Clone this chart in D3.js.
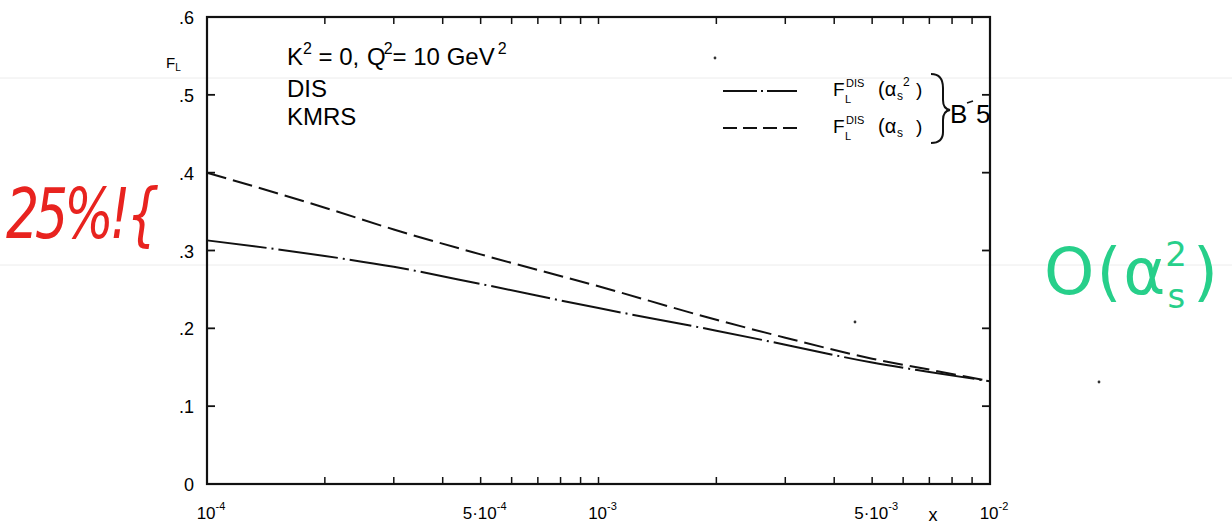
<!DOCTYPE html>
<html>
<head>
    <title></title>
    <meta charset="utf-8" />
    <style>
        body { margin: 0; background: #fff; }
        svg { display: block; }
    </style>
    <script src="https://d3js.org/d3.v7.min.js"></script>
</head>
<body>

<svg id="svg"></svg>

<script>

// x values (log axis) and the two curves
let xs       = [1e-4, 2e-4, 3e-4, 5e-4, 1e-3, 2e-3, 3e-3, 5e-3, 7e-3, 1e-2];
let fAlphaS  = [0.400, 0.355, 0.327, 0.295, 0.254, 0.211, 0.188, 0.161, 0.147, 0.132];
let fAlphaS2 = [0.313, 0.293, 0.279, 0.257, 0.226, 0.197, 0.179, 0.156, 0.144, 0.132];

let yTicks = [0, 0.1, 0.2, 0.3, 0.4, 0.5, 0.6];
let yTickLabels = ["0", ".1", ".2", ".3", ".4", ".5", ".6"];
let xMinor = [2e-4, 3e-4, 4e-4, 5e-4, 6e-4, 7e-4, 8e-4, 9e-4, 1e-3,
              2e-3, 3e-3, 4e-3, 5e-3, 6e-3, 7e-3, 8e-3, 9e-3];
let xLabels = [
    { v: 1e-4, base: "10", exp: "-4" },
    { v: 5e-4, base: "5·10", exp: "-4" },
    { v: 1e-3, base: "10", exp: "-3" },
    { v: 5e-3, base: "5·10", exp: "-3" },
    { v: 1e-2, base: "10", exp: "-2" }
];

let W = 1232, H = 526;
let svg = d3.select("#svg").attr("width", W).attr("height", H);

let x = d3.scaleLog().domain([1e-4, 1e-2]).range([207, 990]);
let y = d3.scaleLinear().domain([0, 0.6]).range([484, 17]);

let font = "'Liberation Sans', Arial, sans-serif";

// faint scanner lines
[78, 265].forEach(function(yy) {
    svg.append("line").attr("x1", 0).attr("x2", W).attr("y1", yy).attr("y2", yy)
        .attr("stroke", "#ececec").attr("stroke-width", 1);
});

// frame
svg.append("rect")
    .attr("x", x(1e-4)).attr("y", y(0.6))
    .attr("width", x(1e-2) - x(1e-4)).attr("height", y(0) - y(0.6))
    .attr("fill", "none").attr("stroke", "#111").attr("stroke-width", 2.2);

// y ticks (left + right, inward)
let yt = yTicks.filter(d => d > 0 && d < 0.6);
svg.selectAll(".ytl").data(yt).enter().append("line")
    .attr("x1", x(1e-4)).attr("x2", x(1e-4) + 8)
    .attr("y1", d => y(d)).attr("y2", d => y(d))
    .attr("stroke", "#111").attr("stroke-width", 1.8);
svg.selectAll(".ytr").data(yt).enter().append("line")
    .attr("x1", x(1e-2)).attr("x2", x(1e-2) - 8)
    .attr("y1", d => y(d)).attr("y2", d => y(d))
    .attr("stroke", "#111").attr("stroke-width", 1.8);

svg.selectAll(".ylab").data(yTicks).enter().append("text")
    .attr("x", 194).attr("y", d => y(d) + 7)
    .attr("text-anchor", "end")
    .attr("font-family", font).attr("font-size", 18)
    .text((d, i) => yTickLabels[i]);

// x minor ticks (bottom + top)
svg.selectAll(".xtb").data(xMinor).enter().append("line")
    .attr("x1", d => x(d)).attr("x2", d => x(d))
    .attr("y1", y(0)).attr("y2", y(0) - 7)
    .attr("stroke", "#111").attr("stroke-width", 1.5);
svg.selectAll(".xtt").data(xMinor).enter().append("line")
    .attr("x1", d => x(d)).attr("x2", d => x(d))
    .attr("y1", y(0.6)).attr("y2", y(0.6) + 7)
    .attr("stroke", "#111").attr("stroke-width", 1.5);

// x labels
let xl = svg.selectAll(".xlab").data(xLabels).enter().append("text")
    .attr("x", d => x(d.v) + 4).attr("y", 519)
    .attr("text-anchor", "middle")
    .attr("font-family", font).attr("font-size", 17);
xl.append("tspan").text(d => d.base);
xl.append("tspan").attr("dy", -9).attr("font-size", 11).text(d => d.exp);

svg.append("text").attr("x", 933).attr("y", 521)
    .attr("text-anchor", "middle")
    .attr("font-family", font).attr("font-size", 18).text("x");

// y label F_L
let fl = svg.append("text").attr("x", 166).attr("y", 68)
    .attr("font-family", font).attr("font-size", 15);
fl.append("tspan").text("F");
fl.append("tspan").attr("dy", 3).attr("font-size", 10).text("L");

// curves
let line = d3.line()
    .x((d, i) => x(xs[i]))
    .y(d => y(d))
    .curve(d3.curveMonotoneX);

svg.append("path").datum(fAlphaS)
    .attr("d", line).attr("fill", "none")
    .attr("stroke", "#111").attr("stroke-width", 2)
    .attr("stroke-dasharray", "20,7");

svg.append("path").datum(fAlphaS2)
    .attr("d", line).attr("fill", "none")
    .attr("stroke", "#111").attr("stroke-width", 2)
    .attr("stroke-dasharray", "60,5,2,5");

// text block
let t1 = svg.append("text").attr("x", 287).attr("y", 65)
    .attr("font-family", font).attr("font-size", 24);
t1.append("tspan").text("K");
t1.append("tspan").attr("dy", -11).attr("font-size", 16).text("2");
t1.append("tspan").attr("dy", 11).text(" = 0,");
t1.append("tspan").attr("x", 367).text("Q");
t1.append("tspan").attr("dy", -11).attr("font-size", 16).attr("dx", -2).text("2");
t1.append("tspan").attr("dy", 11).text("= 10 GeV");
t1.append("tspan").attr("dy", -11).attr("font-size", 16).attr("dx", 3).text("2");

svg.append("text").attr("x", 287).attr("y", 97)
    .attr("font-family", font).attr("font-size", 24).text("DIS");
svg.append("text").attr("x", 287).attr("y", 125)
    .attr("font-family", font).attr("font-size", 24).text("KMRS");

// legend
let legend = [
    { y: 91, dash: "34,4,2,4", sup: "2" },
    { y: 128, dash: "14,6", sup: "" }
];
legend.forEach(function(d) {
    svg.append("line").attr("x1", 723).attr("x2", 797)
        .attr("y1", d.y).attr("y2", d.y)
        .attr("stroke", "#111").attr("stroke-width", 2)
        .attr("stroke-dasharray", d.dash);
    let tx = function(xx, yy, size, s) {
        svg.append("text").attr("x", xx).attr("y", yy)
            .attr("font-family", font).attr("font-size", size).text(s);
    };
    tx(833, d.y + 5, 19, "F");
    tx(846, d.y - 4, 11, "DIS");
    tx(845, d.y + 12, 11, "L");
    tx(878, d.y + 5, 20, "(α");
    tx(897, d.y + 9, 12, "s");
    if (d.sup) tx(903, d.y - 5, 12, d.sup);
    tx(916, d.y + 5, 19, ")");
});

// brace + B5
svg.append("path")
    .attr("d", "M931,74 Q943,74 943,88 L943,100 Q943,109 950,110 Q943,111 943,120 L943,132 Q943,143 931,143")
    .attr("fill", "none").attr("stroke", "#111").attr("stroke-width", 2);
svg.append("text").attr("x", 950).attr("y", 123)
    .attr("font-family", font).attr("font-size", 26).text("B");
svg.append("text").attr("x", 976).attr("y", 123)
    .attr("font-family", font).attr("font-size", 26).text("5");
svg.append("path").attr("d", "M967,103 L973,101")
    .attr("stroke", "#111").attr("stroke-width", 1.5);

// stray specks from the scan
[[855, 322], [715, 58], [1099, 382]].forEach(function(p) {
    svg.append("circle").attr("cx", p[0]).attr("cy", p[1]).attr("r", 1.4).attr("fill", "#333");
});

// handwritten annotations
svg.append("text").attr("transform", "translate(6,238) scale(1,1.35)")
    .attr("font-family", "'DejaVu Sans', sans-serif").attr("font-style", "italic")
    .attr("font-size", 52).attr("fill", "#e8231f")
    .attr("letter-spacing", -4)
    .text("25%!{");

let g = svg.append("text").attr("x", 1044).attr("y", 294)
    .attr("font-family", "'DejaVu Sans', sans-serif")
    .attr("font-size", 64).attr("fill", "#27cf8a")
    .attr("letter-spacing", 2);
g.append("tspan").text("O(α");
g.append("tspan").attr("font-size", 34).attr("dy", 14).text("s");
g.append("tspan").attr("font-size", 34).attr("dy", -42).attr("dx", -22).text("2");
g.append("tspan").attr("dy", 28).attr("dx", 4).text(")");

</script>

</body>
</html>
